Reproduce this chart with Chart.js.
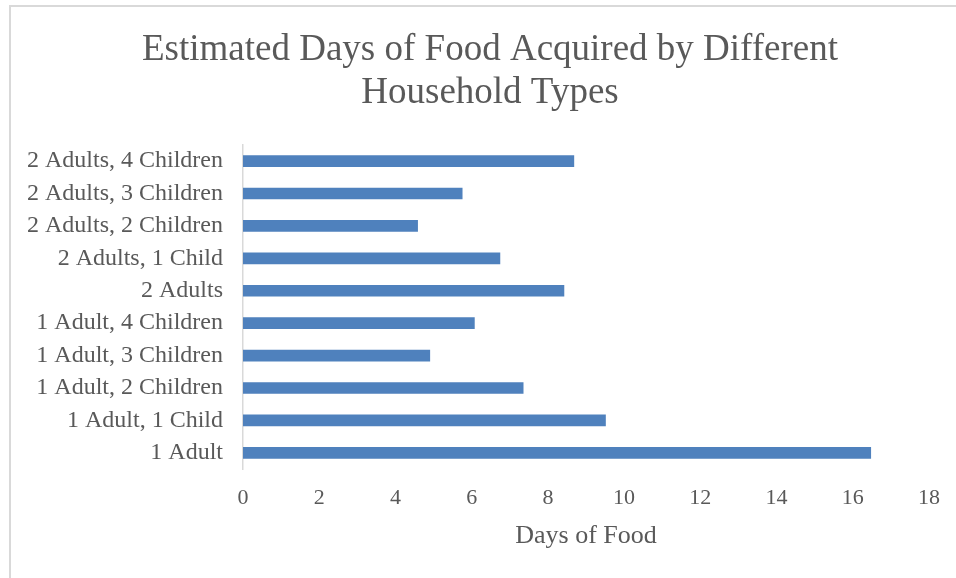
<!DOCTYPE html>
<html>
<head>
<meta charset="utf-8">
<script src="https://cdn.jsdelivr.net/npm/chart.js@4.4.1/dist/chart.umd.min.js"></script>
<style>
    html, body { margin: 0; padding: 0; background: #ffffff; }
    #wrap { position: relative; width: 956px; height: 578px; overflow: hidden; }
    #frame {
        position: absolute; left: 9px; top: 5px; width: 1000px; height: 700px;
        border-left: 2px solid #d9d9d9; border-top: 2px solid #d9d9d9;
        box-sizing: border-box; pointer-events: none;
    }
    #chart { position: absolute; left: 0; top: 0; }
</style>
</head>
<body>
<div id="wrap">
    <canvas id="chart" width="956" height="578"></canvas>
    <div id="frame"></div>
</div>
<script>
// ================= DATA =================
const householdTypes = [
    '1 Adult',
    '1 Adult, 1 Child',
    '1 Adult, 2 Children',
    '1 Adult, 3 Children',
    '1 Adult, 4 Children',
    '2 Adults',
    '2 Adults, 1 Child',
    '2 Adults, 2 Children',
    '2 Adults, 3 Children',
    '2 Adults, 4 Children'
];
const daysOfFood = [16.48, 9.52, 7.36, 4.91, 6.08, 8.43, 6.75, 4.59, 5.76, 8.69];
const titleLines = ['Estimated Days of Food Acquired by Different', 'Household Types'];
const axisTitle = 'Days of Food';

// ================= STYLE =================
const FONT = '"Liberation Serif", "Times New Roman", serif';
const TEXT = '#595959';
const BAR = '#4f81bd';

// ================= RENDER CHART =================
const canvas = document.getElementById('chart');

new Chart(canvas, {
    type: 'bar',
    data: {
        labels: householdTypes,
        datasets: [{
            data: daysOfFood,
            backgroundColor: BAR,
            borderWidth: 0,
            barPercentage: 0.36,
            categoryPercentage: 1
        }]
    },
    options: {
        indexAxis: 'y',
        responsive: false,
        animation: false,
        devicePixelRatio: 1,
        // left padding keeps the title centred a little right of the middle
        layout: { padding: { left: 24, right: 0, top: 0, bottom: 0 } },
        plugins: {
            legend: { display: false },
            tooltip: { enabled: false },
            title: {
                display: true,
                text: titleLines,
                color: TEXT,
                font: { family: FONT, size: 37, weight: 'normal', lineHeight: 1.16 },
                padding: { top: 29, bottom: 30 }
            }
        },
        scales: {
            x: {
                min: 0,
                max: 18,
                ticks: {
                    stepSize: 2,
                    color: TEXT,
                    padding: 16,
                    font: { family: FONT, size: 22 }
                },
                grid: { display: false, drawTicks: false },
                border: { display: false },
                title: {
                    display: true,
                    text: axisTitle,
                    color: TEXT,
                    font: { family: FONT, size: 26, lineHeight: 1.2 },
                    padding: { top: 0, bottom: 26 }
                },
                afterFit: (scale) => {
                    scale.height = 109;
                    scale.paddingRight = 27;
                }
            },
            y: {
                reverse: true,
                ticks: {
                    color: TEXT,
                    padding: 20,
                    font: { family: FONT, size: 24 }
                },
                grid: { display: false, drawTicks: false },
                border: { display: true, color: '#d9d9d9', width: 1.5 },
                afterFit: (scale) => { scale.width = 219; }
            }
        }
    }
});
</script>
</body>
</html>
